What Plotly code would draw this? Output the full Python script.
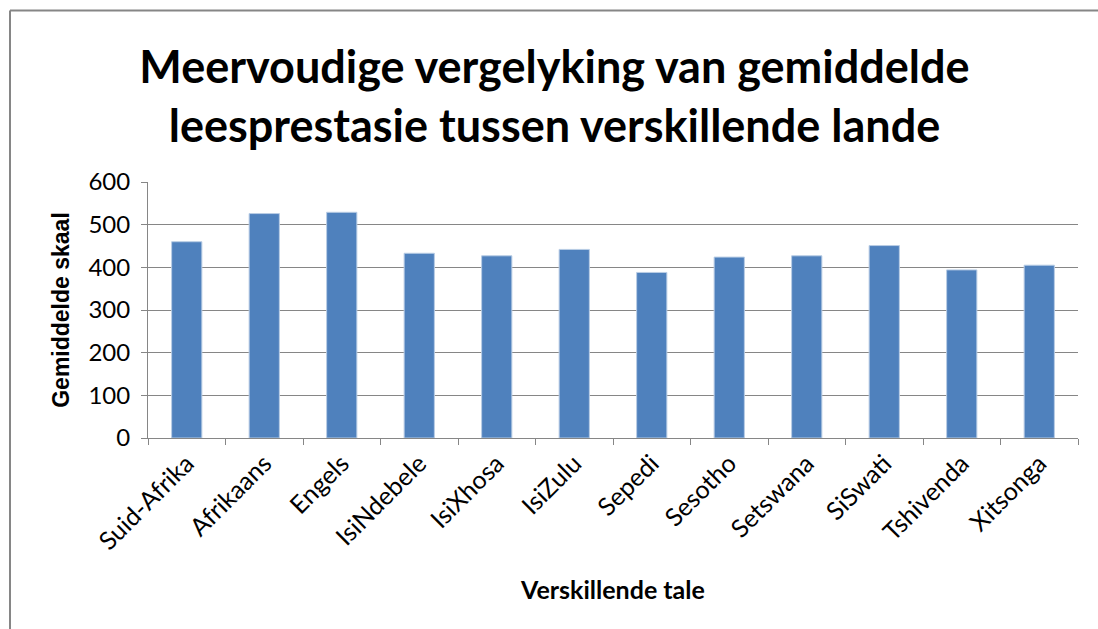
import plotly.graph_objects as go

tale = ["Suid-Afrika", "Afrikaans", "Engels", "IsiNdebele", "IsiXhosa", "IsiZulu",
        "Sepedi", "Sesotho", "Setswana", "SiSwati", "Tshivenda", "Xitsonga"]
gemiddelde = [460, 526, 529, 433, 427, 442, 388, 424, 427, 451, 394, 405]
y_ticks = [0, 100, 200, 300, 400, 500, 600]

W, H = 1098, 629
L, R, T, B = 148, 20, 182, 191
pw, ph = W - L - R, H - T - B

fig = go.Figure(go.Bar(
    x=tale, y=gemiddelde,
    marker=dict(color="#4F81BD", line=dict(color="#B9CDE5", width=1)),
    width=0.39,
))

grey = "#868686"
fig.update_layout(
    width=W, height=H,
    margin=dict(l=L, r=R, t=T, b=B),
    paper_bgcolor="white", plot_bgcolor="white",
    showlegend=False,
    title=dict(
        text="Meervoudige vergelyking van gemiddelde<br>leesprestasie tussen verskillende lande",
        font=dict(family="Lato", size=45, color="black", weight="bold"),
        x=0.505, xanchor="center", y=0.868, yanchor="middle",
    ),
    font=dict(family="Lato", color="black"),
)
fig.update_xaxes(
    tickangle=-45, tickfont=dict(size=25),
    showline=True, linecolor=grey, linewidth=1,
    ticks="outside", tickson="boundaries", ticklen=6, tickcolor=grey,
    title=dict(text="Verskillende tale", font=dict(size=25, weight="bold"), standoff=27),
)
fig.update_yaxes(
    range=[0, 600], tickvals=y_ticks, tickfont=dict(size=24),
    ticklabelstandoff=6,
    showgrid=True, gridcolor=grey, gridwidth=1,
    showline=True, linecolor=grey, linewidth=1,
    ticks="outside", ticklen=6, tickcolor=grey,
    zeroline=False,
    title=dict(text="Gemiddelde skaal", font=dict(family="Arial", size=23, weight="bold"), standoff=12),
)

# chart frame: only the top and left edges show in the picture
top_y = (H - B - 10.5) / ph
left_x = (10 - L) / pw
fig.add_shape(type="line", xref="paper", yref="paper",
              x0=left_x, x1=(W - L) / pw, y0=top_y, y1=top_y,
              line=dict(color=grey, width=2))
fig.add_shape(type="line", xref="paper", yref="paper",
              x0=left_x, x1=left_x, y0=-B / ph, y1=top_y,
              line=dict(color=grey, width=2))

# drop the default 8px body margin so the figure sits at the window's corner
fig.write_html("out.html", config={"displayModeBar": False},
               post_script="document.body.style.margin='0';")
